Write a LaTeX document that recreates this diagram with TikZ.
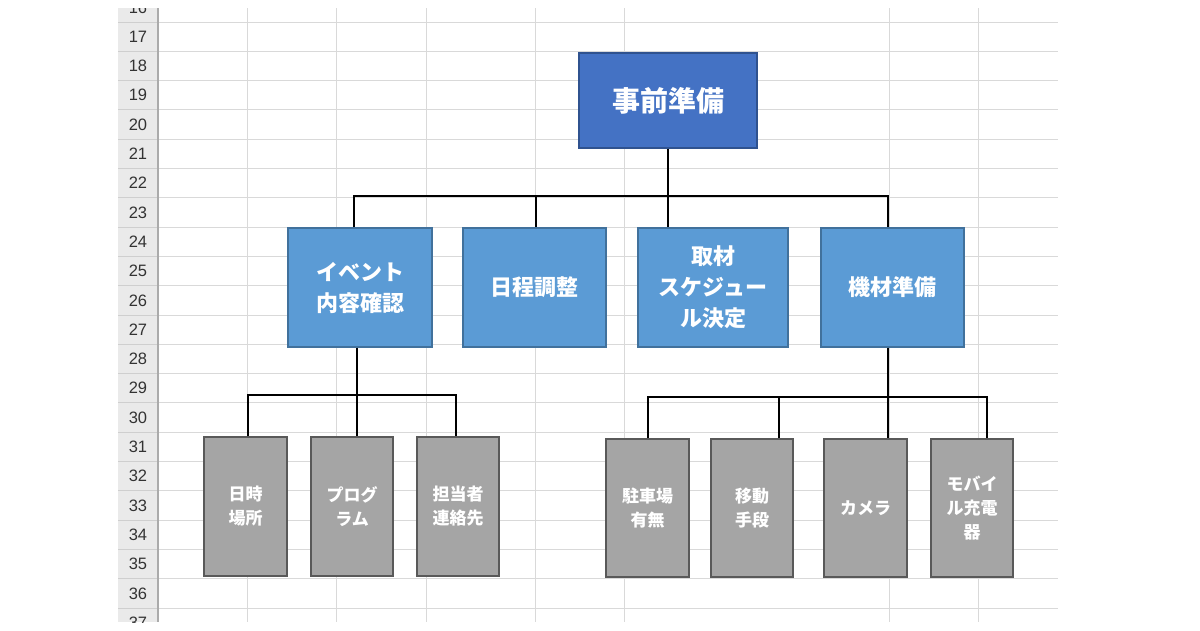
\documentclass[tikz,border=0pt]{standalone}
\usepackage{fontspec}
\newfontfamily\jp{Noto Sans CJK JP}
\newfontfamily\numf{Liberation Sans}
\definecolor{topfill}{HTML}{4472C4}
\definecolor{topedge}{HTML}{2F528F}
\definecolor{midfill}{HTML}{5B9BD5}
\definecolor{midedge}{HTML}{41719C}
\definecolor{subfill}{HTML}{A5A5A5}
\definecolor{subedge}{HTML}{595959}
\definecolor{gridc}{HTML}{D9D9D9}
\definecolor{hdrfill}{HTML}{EAEAEA}
\definecolor{hdredge}{HTML}{ABABAB}
\definecolor{hdrsep}{HTML}{CFCFCF}
\definecolor{numc}{HTML}{333333}
\tikzset{
  box/.style={rectangle, inner sep=0pt, align=center, text=white, line width=1.1pt},
  topbox/.style={box, fill=topfill, draw=topedge, minimum width=178pt, minimum height=95pt,
    font=\jp\bfseries\fontsize{28}{34}\selectfont},
  midbox/.style={box, fill=midfill, draw=midedge, minimum height=119pt,
    font=\jp\bfseries\fontsize{22}{31}\selectfont},
  subbox/.style={box, fill=subfill, draw=subedge, minimum width=83pt,
    font=\jp\bfseries\fontsize{17}{24}\selectfont},
  conn/.style={draw=black, line width=2.8pt},
  rownum/.style={font=\numf\fontsize{16.5}{18}\selectfont, text=numc, inner sep=0pt},
}
\begin{document}
\begin{tikzpicture}[x=1pt,y=-1pt]
\useasboundingbox (0,0) rectangle (1200,630);
\fill[white] (0,0) rectangle (1200,630);
% spreadsheet background
\begin{scope}
\clip (118,8) rectangle (1058,622);
\fill[hdrfill] (118,8) rectangle (158,622);
\foreach \k in {0,...,20} {
  \draw[gridc, line width=1pt] (158,22+\k*29.3) -- (1058,22+\k*29.3);
  \draw[hdrsep, line width=1pt] (118,22+\k*29.3) -- (158,22+\k*29.3);
}
\foreach \x in {247,336,426,535,624,889,978} {
  \draw[gridc, line width=1pt] (\x,8) -- (\x,622);
}
\draw[hdredge, line width=1.6pt] (158,8) -- (158,622);
\foreach \r [count=\i from 0] in {16,...,37} {
  \node[rownum] (row\r) at (138,7.35+\i*29.3) {\r};
}
\end{scope}
% boxes
\node[topbox] (top) at (668,100.5) {事前準備};
\node[midbox, minimum width=144pt] (ev) at (360,287.5) {イベント\\内容確認};
\node[midbox, minimum width=143pt] (nt) at (534.5,287.5) {日程調整};
\node[midbox, minimum width=150pt] (sz) at (713,287.5) {取材\\スケジュー\\ル決定};
\node[midbox, minimum width=143pt] (kz) at (892.5,287.5) {機材準備};
\node[subbox, minimum height=139pt] (a1) at (245.5,506.5) {日時\\場所};
\node[subbox, minimum height=139pt, minimum width=82pt] (a2) at (352,506.5) {プログ\\ラム};
\node[subbox, minimum height=139pt, minimum width=82pt] (a3) at (458,506.5) {担当者\\連絡先};
\node[subbox, minimum height=138pt] (b1) at (647.5,508) {駐車場\\有無};
\node[subbox, minimum height=138pt, minimum width=82pt] (b2) at (752,508) {移動\\手段};
\node[subbox, minimum height=138pt] (b3) at (865.5,508) {カメラ};
\node[subbox, minimum height=138pt, minimum width=82pt] (b4) at (972,508) {モバイ\\ル充電\\器};
% connectors level 1
\coordinate (jA) at (354,196);
\coordinate (jB) at (536,196);
\coordinate (jD) at (888,196);
\draw[conn] (jA |- ev.north) -- (jA) -- (jD) -- (jD |- kz.north);
\draw[conn] (top.south) -- (top.south |- sz.north);
\draw[conn] (jB) -- (jB |- nt.north);
% connectors level 2 left
\coordinate (kA) at (248,395);
\coordinate (kB) at (357,395);
\coordinate (kC) at (456,395);
\draw[conn] (kA |- a1.north) -- (kA) -- (kC) -- (kC |- a3.north);
\draw[conn] (kB |- ev.south) -- (kB |- a2.north);
% connectors level 2 right
\coordinate (m1) at (648,397);
\coordinate (m2) at (779,397);
\coordinate (m3) at (888,397);
\coordinate (m4) at (987,397);
\draw[conn] (m1 |- b1.north) -- (m1) -- (m4) -- (m4 |- b4.north);
\draw[conn] (m2) -- (m2 |- b2.north);
\draw[conn] (m3 |- kz.south) -- (m3 |- b3.north);
\end{tikzpicture}
\end{document}
